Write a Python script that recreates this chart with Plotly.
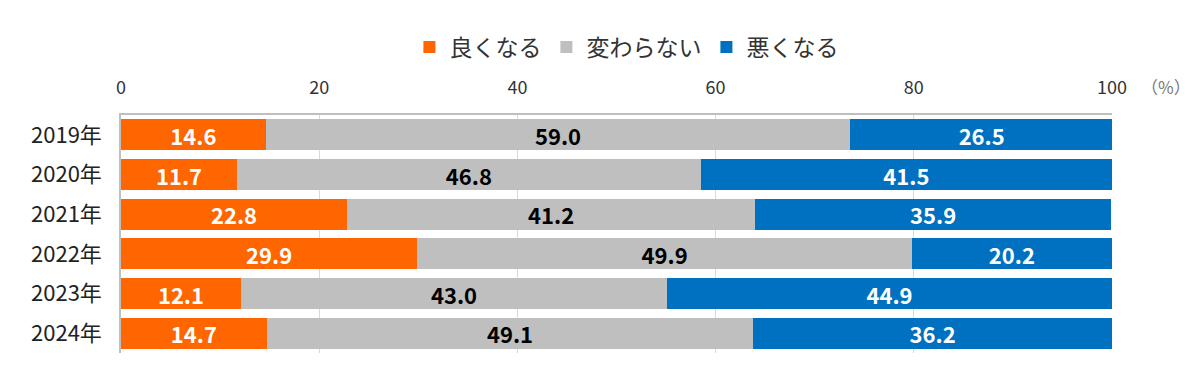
import plotly.graph_objects as go

years = ["2019年", "2020年", "2021年", "2022年", "2023年", "2024年"]
better = [14.6, 11.7, 22.8, 29.9, 12.1, 14.7]
same = [59.0, 46.8, 41.2, 49.9, 43.0, 49.1]
worse = [26.5, 41.5, 35.9, 20.2, 44.9, 36.2]
series_names = ["良くなる", "変わらない", "悪くなる"]
colors = ["#FF6600", "#BFBFBF", "#0070C0"]
text_colors = ["white", "black", "white"]
x_ticks = [0, 20, 40, 60, 80, 100]

font_family = "Noto Sans CJK JP"

fig = go.Figure()
for name, vals, c, tc in zip(series_names, [better, same, worse], colors, text_colors):
    fig.add_trace(go.Bar(
        y=years, x=vals, name=name, orientation="h",
        marker=dict(color=c, line=dict(width=0)),
        text=[f"{v:.1f}" for v in vals],
        textposition="inside", insidetextanchor="middle",
        constraintext="none",
        textfont=dict(color=tc, size=22, family=font_family, weight="bold"),
        cliponaxis=True,
    ))

fig.update_layout(
    barmode="stack",
    bargap=0.22,
    width=1200, height=380,
    margin=dict(l=121, r=88, t=115, b=27),
    plot_bgcolor="white", paper_bgcolor="white",
    font=dict(family=font_family, size=16, color="#222222"),
    uniformtext=dict(mode=False),
    legend=dict(orientation="h", x=0.51, xanchor="center", y=1.285, yanchor="middle",
                font=dict(size=23, color="#333333"), traceorder="normal",
                itemwidth=30),
    xaxis=dict(range=[0, 100], side="top", tickvals=x_ticks,
               showgrid=True, gridcolor="#D9D9D9", gridwidth=1,
               showline=True, linecolor="#BFBFBF", linewidth=1.5, automargin=False,
               zeroline=False, ticks="", tickfont=dict(size=18, color="#333333"),
               ticklabelstandoff=12),
    yaxis=dict(categoryorder="array", categoryarray=years[::-1], showgrid=False,
               showline=True, linecolor="#BFBFBF", linewidth=1.5, ticks="", automargin=False,
               tickfont=dict(size=22, color="#222222"), ticklabelstandoff=13),
)

fig.add_annotation(text="（%）", xref="paper", yref="paper", x=1.027, y=1.0,
                   yshift=29, xanchor="left", yanchor="middle", showarrow=False,
                   font=dict(size=17, color="#777777", family=font_family))

fig.write_html("out.html", config={"displayModeBar": False},
               post_script="document.body.style.margin='0';")
